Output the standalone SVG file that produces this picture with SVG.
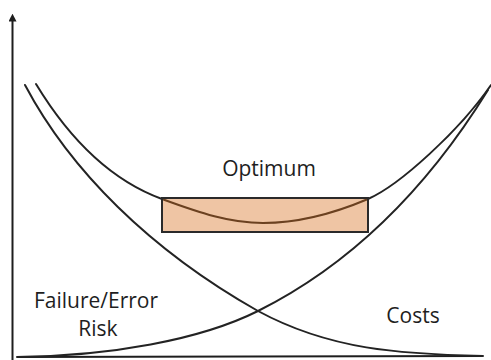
<svg xmlns="http://www.w3.org/2000/svg" width="491" height="360" viewBox="0 0 491 360">
  <defs>
    <marker id="arrow" viewBox="0 0 10 10" refX="2" refY="5" markerWidth="4" markerHeight="4" markerUnits="strokeWidth" orient="auto">
      <path d="M0,0 L10,5 L0,10 Z" fill="#1e1e1e"/>
    </marker>
    <style>
      .curve { fill: none; stroke: #232323; stroke-width: 2; stroke-linecap: round; }
      .axis { fill: none; stroke: #1e1e1e; stroke-width: 2; }
      .label { font-family: "Open Sans", "Noto Sans", sans-serif; font-size: 21px; fill: #1e1e1e; text-anchor: middle; }
    </style>
  </defs>
  <rect width="491" height="360" fill="#fff"/>
  <g id="axes">
    <path class="axis" d="M12.5,360 L12.5,20" marker-end="url(#arrow)"/>
    <path class="axis" d="M17,357 L483,356"/>
  </g>
  <g id="connectors">
    <path id="costs-curve" class="curve" d="M25,85 C70,170 150,250 258,311 C330,350 400,354 483,356"/>
    <path id="risk-curve" class="curve" d="M17,357 C110,356 200,340 258,311 C340,270 420,200 488,90"/>
    <path id="total-curve" class="curve" d="M36,84 C70,140 110,180 162,199 C200,213 230,223 263,223 C300,223 335,213 368,199 C400,185 460,130 491,85"/>
  </g>
  <g id="optimum">
    <rect x="162" y="198" width="206" height="34" fill="#d76e1c" fill-opacity="0.4" stroke="#2a2a2a" stroke-width="2"/>
    <text class="label" x="269" y="176">Optimum</text>
  </g>
  <g id="risk-label">
    <text class="label" x="96" y="308">Failure/Error</text>
    <text class="label" x="98" y="336">Risk</text>
  </g>
  <g id="costs-label">
    <text class="label" x="413" y="323">Costs</text>
  </g>
</svg>
